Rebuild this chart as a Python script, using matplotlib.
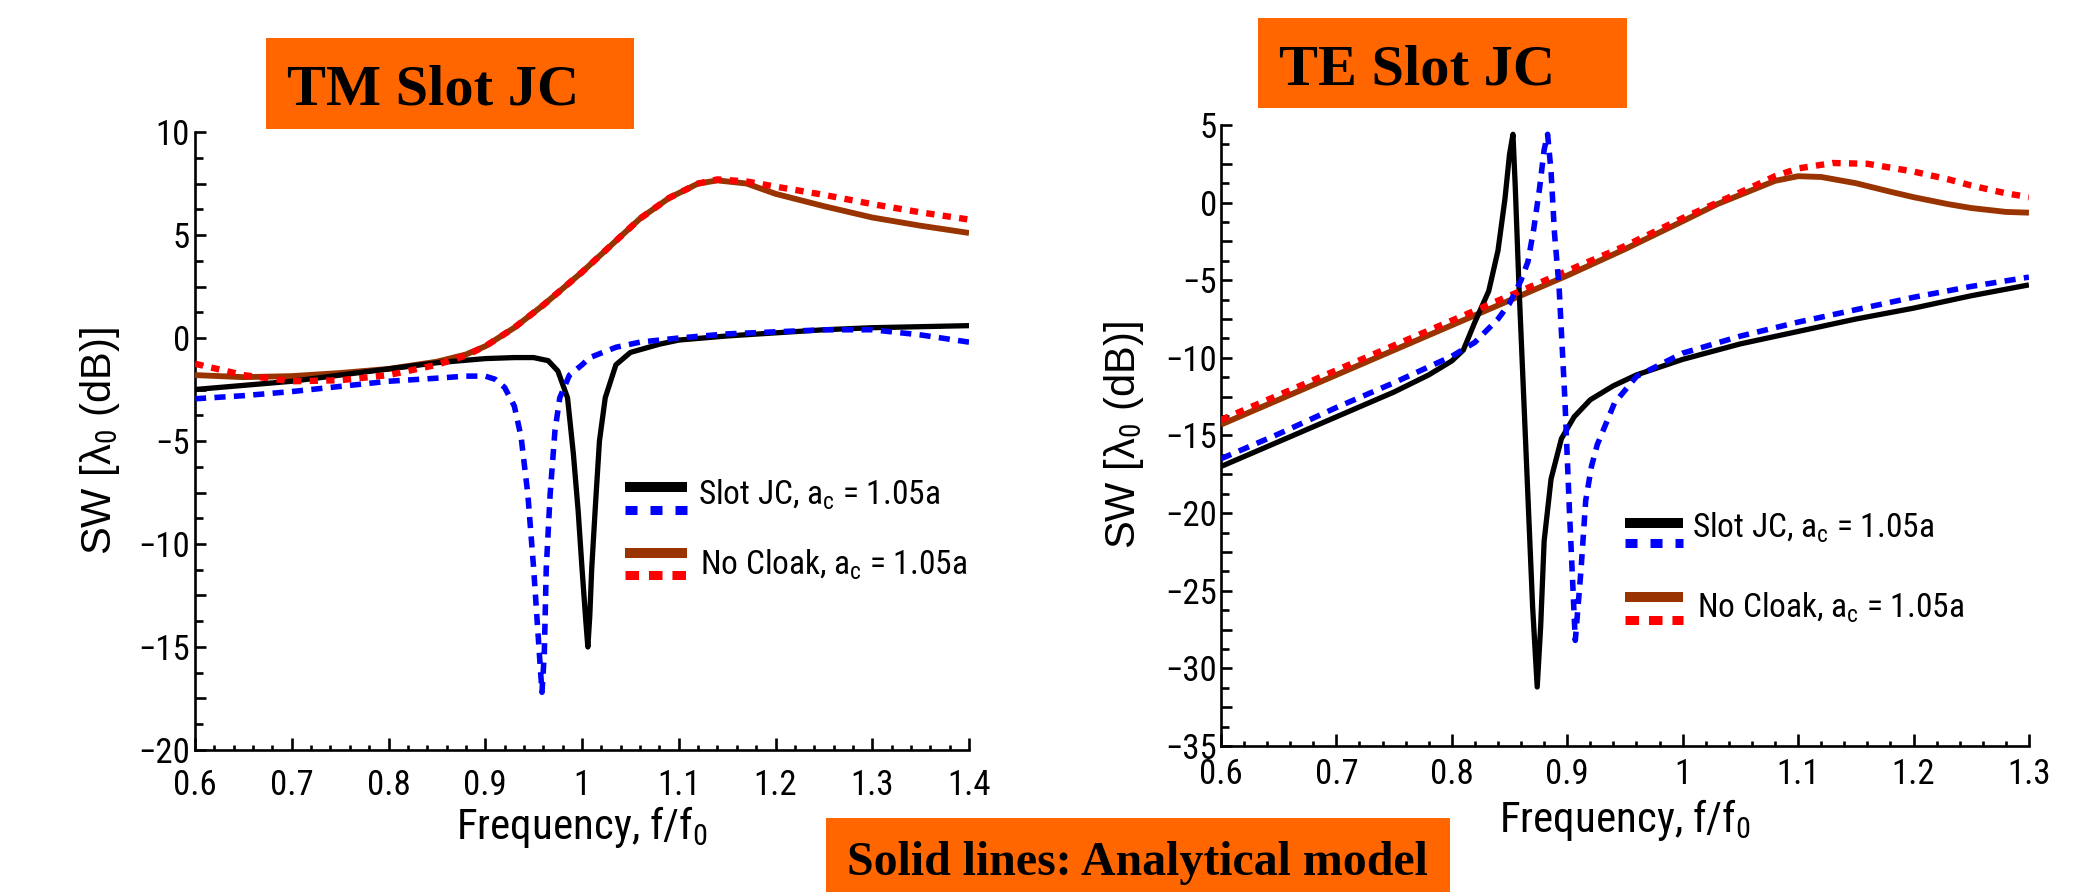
import matplotlib
matplotlib.use("Agg")
import matplotlib.pyplot as plt
from matplotlib.lines import Line2D
from matplotlib.patches import Rectangle
from matplotlib.ticker import FixedLocator, FixedFormatter, MultipleLocator

SANS = ["Roboto Condensed", "Liberation Sans", "DejaVu Sans"]
plt.rcParams["font.family"] = SANS
plt.rcParams["mathtext.fontset"] = "custom"
plt.rcParams["mathtext.rm"] = "Roboto Condensed"
plt.rcParams["mathtext.it"] = "Roboto Condensed:italic"
plt.rcParams["axes.unicode_minus"] = True

# ---------------- TM polarisation ----------------
tm_noclk_x = [0.60, 0.65, 0.70, 0.75, 0.80, 0.85, 0.88, 0.90, 0.93, 0.96, 1.00, 1.03,
              1.06, 1.09, 1.12, 1.14, 1.17, 1.20, 1.25, 1.30, 1.35, 1.40]
tm_noclk_model = [-1.8, -1.9, -1.85, -1.7, -1.5, -1.15, -0.8, -0.4, 0.5, 1.6, 3.2, 4.5,
                  5.8, 6.8, 7.5, 7.65, 7.5, 7.0, 6.4, 5.85, 5.45, 5.1]
tm_noclk_sim = [-1.25, -1.8, -2.1, -2.05, -1.8, -1.3, -0.85, -0.4, 0.5, 1.6, 3.2, 4.5,
                5.8, 6.8, 7.5, 7.7, 7.6, 7.35, 6.95, 6.5, 6.1, 5.75]

tm_jc_model_x = [0.60, 0.65, 0.70, 0.75, 0.80, 0.85, 0.90, 0.93, 0.95, 0.965, 0.975, 0.985,
                 0.991, 0.996, 1.000, 1.004, 1.006, 1.008, 1.010, 1.014, 1.018, 1.024,
                 1.035, 1.05, 1.08, 1.10, 1.15, 1.20, 1.25, 1.30, 1.35, 1.40]
tm_jc_model = [-2.5, -2.3, -2.1, -1.8, -1.5, -1.2, -1.0, -0.95, -0.95, -1.1, -1.6, -2.9,
               -5.6, -8.4, -11.2, -13.8, -15.0, -13.5, -11.2, -8.0, -5.0, -2.9,
               -1.3, -0.7, -0.3, -0.1, 0.1, 0.25, 0.4, 0.5, 0.55, 0.6]

tm_jc_sim_x = [0.60, 0.65, 0.70, 0.75, 0.80, 0.85, 0.88, 0.90, 0.91, 0.92, 0.93, 0.937,
               0.944, 0.950, 0.954, 0.9586, 0.961, 0.963, 0.967, 0.972, 0.977, 0.987,
               1.000, 1.008, 1.035, 1.06, 1.10, 1.15, 1.20, 1.25, 1.30, 1.35, 1.40]
tm_jc_sim = [-2.95, -2.8, -2.6, -2.35, -2.1, -1.95, -1.85, -1.85, -2.0, -2.4, -3.3, -4.8,
             -7.6, -11.2, -14.0, -17.2, -15.3, -11.2, -7.6, -4.5, -2.9, -1.8,
             -1.3, -0.95, -0.45, -0.2, 0.0, 0.2, 0.3, 0.4, 0.4, 0.15, -0.2]

tm_xticks = [0.6, 0.7, 0.8, 0.9, 1.0, 1.1, 1.2, 1.3, 1.4]
tm_xticklabels = ["0.6", "0.7", "0.8", "0.9", "1", "1.1", "1.2", "1.3", "1.4"]
tm_yticks = [-20, -17.5, -15, -12.5, -10, -7.5, -5, -2.5, 0, 2.5, 5, 7.5, 10]
tm_yticklabels = ["\u221220", "", "\u221215", "", "\u221210", "", "\u22125", "", "0", "", "5", "", "10"]

# ---------------- TE polarisation ----------------
te_noclk_x = [0.60, 0.65, 0.70, 0.75, 0.80, 0.85, 0.90, 0.95, 1.00, 1.03, 1.06, 1.08,
              1.10, 1.12, 1.15, 1.18, 1.20, 1.23, 1.25, 1.28, 1.30]
te_noclk_model = [-14.3, -12.7, -11.1, -9.5, -7.9, -6.3, -4.7, -3.0, -1.2, -0.1, 0.8, 1.4,
                  1.7, 1.65, 1.25, 0.7, 0.35, -0.1, -0.35, -0.6, -0.65]
te_noclk_sim_x = [0.60, 0.65, 0.70, 0.75, 0.80, 0.85, 0.90, 0.95, 1.00, 1.03, 1.06, 1.08,
                  1.10, 1.13, 1.16, 1.20, 1.23, 1.25, 1.28, 1.30]
te_noclk_sim = [-14.0, -12.4, -10.8, -9.2, -7.6, -6.0, -4.4, -2.8, -1.0, 0.0, 1.0, 1.7,
                2.2, 2.55, 2.5, 2.0, 1.5, 1.1, 0.6, 0.35]

te_jc_model_x = [0.60, 0.65, 0.70, 0.75, 0.78, 0.80, 0.81, 0.82, 0.832, 0.840, 0.846,
                 0.850, 0.853, 0.855, 0.858, 0.862, 0.866, 0.870, 0.874, 0.877, 0.880,
                 0.886, 0.895, 0.906, 0.92, 0.94, 0.96, 1.00, 1.05, 1.10, 1.15, 1.20,
                 1.25, 1.30]
te_jc_model = [-17.0, -15.4, -13.8, -12.2, -11.1, -10.2, -9.5, -7.7, -5.7, -3.1, 0.2,
               3.1, 4.4, 1.0, -5.0, -12.0, -19.0, -26.0, -31.2, -27.3, -21.8,
               -17.8, -15.2, -13.8, -12.7, -11.8, -11.1, -10.1, -9.1, -8.3, -7.5, -6.8,
               -6.0, -5.3]

te_jc_sim_x = [0.60, 0.65, 0.70, 0.75, 0.80, 0.82, 0.84, 0.85, 0.86, 0.866, 0.871, 0.876,
               0.880, 0.883, 0.886, 0.889, 0.893, 0.898, 0.902, 0.907, 0.912, 0.916,
               0.921, 0.926, 0.941, 0.96, 1.00, 1.05, 1.10, 1.15, 1.20, 1.25, 1.30]
te_jc_sim = [-16.5, -14.9, -13.2, -11.6, -9.9, -9.0, -7.5, -6.5, -5.0, -3.8, -1.7, 0.9,
             3.4, 4.4, 2.0, -2.0, -5.5, -12.7, -20.0, -28.2, -23.6, -19.2,
             -17.0, -15.6, -12.9, -11.2, -9.7, -8.6, -7.7, -6.9, -6.1, -5.4, -4.8]

te_xticks = [0.6, 0.7, 0.8, 0.9, 1.0, 1.1, 1.2, 1.3]
te_xticklabels = ["0.6", "0.7", "0.8", "0.9", "1", "1.1", "1.2", "1.3"]
te_yticks = [-35, -32.5, -30, -27.5, -25, -22.5, -20, -17.5, -15, -12.5, -10, -7.5, -5,
             -2.5, 0, 2.5, 5]
te_yticklabels = ["\u221235", "", "\u221230", "", "\u221225", "", "\u221220", "", "\u221215", "",
                  "\u221210", "", "\u22125", "", "0", "", "5"]

legend_labels = ["Slot JC, a$_\\mathrm{c}$ = 1.05a", "No Cloak, a$_\\mathrm{c}$ = 1.05a"]

BLACK, BLUE, BROWN, RED = "#000000", "#0000ff", "#993300", "#ff0000"
ORANGE = "#ff6600"

fig = plt.figure(figsize=(20.75, 8.92), dpi=100)
ax_tm = fig.add_axes([0.0940, 0.1592, 0.3730, 0.6928])
ax_te = fig.add_axes([0.5884, 0.1637, 0.3894, 0.6962])


def style_axes(ax, xlim, ylim, xticks, xlabels, yticks, ylabels, xpad, ypad):
    ax.set_xlim(*xlim)
    ax.set_ylim(*ylim)
    for side in ("top", "right"):
        ax.spines[side].set_visible(False)
    for side in ("left", "bottom"):
        ax.spines[side].set_linewidth(1.9)
    ax.xaxis.set_major_locator(FixedLocator(xticks))
    ax.xaxis.set_major_formatter(FixedFormatter(xlabels))
    ax.xaxis.set_minor_locator(MultipleLocator(0.02))
    ax.yaxis.set_major_locator(FixedLocator(yticks))
    ax.yaxis.set_major_formatter(FixedFormatter(ylabels))
    ax.yaxis.set_minor_locator(MultipleLocator(1.25))
    ax.tick_params(which="both", direction="in", width=1.9, top=False, right=False,
                   colors="black", labelsize=25)
    ax.tick_params(axis="x", which="major", length=8.5, pad=xpad)
    ax.tick_params(axis="x", which="minor", length=3.6)
    ax.tick_params(axis="y", which="major", length=8.2, pad=ypad)
    ax.tick_params(axis="y", which="minor", length=5.8)


def draw_series(ax, xs, model, xs_sim, sim, solid_color, dash_color, dash, solid_lw, dash_lw):
    ax.plot(xs, model, color=solid_color, lw=solid_lw, solid_capstyle="butt", zorder=3)
    ax.plot(xs_sim, sim, color=dash_color, lw=dash_lw, dashes=dash,
            dash_capstyle="butt", zorder=4)


def legend_key(ax, x0, x1, y, **kw):
    ax.add_line(Line2D([x0, x1], [y, y], transform=ax.transAxes, clip_on=False, **kw))


def draw_legend(ax, hx0, hx1, rows, fs=24):
    # rows: (y_solid, y_dashed, solid_color, dashed_color, dash, text_x, text_y, label)
    for ys, yd, cs, cd, dash, tx, ty, lab in rows:
        legend_key(ax, hx0, hx1, ys, color=cs, lw=7.2, solid_capstyle="butt")
        legend_key(ax, hx0, hx1, yd, color=cd, lw=6.5, dashes=dash, dash_capstyle="butt")
        ax.text(tx, ty, lab, transform=ax.transAxes, fontsize=fs, va="baseline", ha="left")


# TM panel
draw_series(ax_tm, tm_noclk_x, tm_noclk_model, tm_noclk_x, tm_noclk_sim,
            BROWN, RED, (1.3, 1.3), 4.2, 4.6)
draw_series(ax_tm, tm_jc_model_x, tm_jc_model, tm_jc_sim_x, tm_jc_sim,
            BLACK, BLUE, (2.0, 1.5), 3.8, 4.0)
style_axes(ax_tm, (0.6, 1.4), (-20, 10), tm_xticks, tm_xticklabels,
           tm_yticks, tm_yticklabels, xpad=13.5, ypad=3.6)

# TE panel
draw_series(ax_te, te_noclk_x, te_noclk_model, te_noclk_sim_x, te_noclk_sim,
            BROWN, RED, (1.3, 1.3), 4.2, 4.6)
draw_series(ax_te, te_jc_model_x, te_jc_model, te_jc_sim_x, te_jc_sim,
            BLACK, BLUE, (2.0, 1.5), 3.8, 4.0)
style_axes(ax_te, (0.6, 1.3), (-35, 5), te_xticks, te_xticklabels,
           te_yticks, te_yticklabels, xpad=8.6, ypad=2.9)

for ax, lx, ly in ((ax_tm, -0.1234, -0.088), (ax_te, -0.120, -0.082)):
    ax.set_ylabel("SW [\u03bb$_0$ (dB)]", fontsize=30,
                  family=["Liberation Sans", "DejaVu Sans"])
    ax.yaxis.label.set_va("center")
    ax.yaxis.set_label_coords(lx, 0.5)
    ax.set_xlabel("Frequency, f/f$_0$", fontsize=31)
    ax.xaxis.label.set_va("top")
    ax.xaxis.set_label_coords(0.5, ly)

draw_legend(ax_tm, 0.5556, 0.6357, [
    (0.4256, 0.3883, BLACK, BLUE, (1.33, 1.44), 0.6499, 0.3964, legend_labels[0]),
    (0.3188, 0.2832, BROWN, RED, (1.5, 1.1), 0.6525, 0.2832, legend_labels[1]),
])
draw_legend(ax_te, 0.5000, 0.5718, [
    (0.3591, 0.3269, BLACK, BLUE, (1.33, 1.44), 0.5829, 0.3349, legend_labels[0]),
    (0.2399, 0.2029, BROWN, RED, (1.5, 1.1), 0.5891, 0.2061, legend_labels[1]),
])

# Orange caption boxes
serif = ["Liberation Serif", "DejaVu Serif"]
boxes = [
    ((0.1282, 0.8554), 0.1773, 0.1020, 0.1383, 0.8823, "TM Slot JC", 42),
    ((0.6063, 0.8789), 0.1778, 0.1009, 0.6164, 0.9058, "TE Slot JC", 42),
    ((0.3981, 0.0000), 0.3007, 0.0830, 0.4082, 0.0191, "Solid lines: Analytical model", 34.5),
]
for xy, w, h, tx, ty, txt, fs in boxes:
    fig.add_artist(Rectangle(xy, w, h, transform=fig.transFigure, facecolor=ORANGE,
                             edgecolor="none", zorder=0))
    fig.text(tx, ty, txt, fontsize=fs, fontweight="bold", family=serif,
             ha="left", va="baseline", color="black")

fig.savefig("out.png", dpi=100)
